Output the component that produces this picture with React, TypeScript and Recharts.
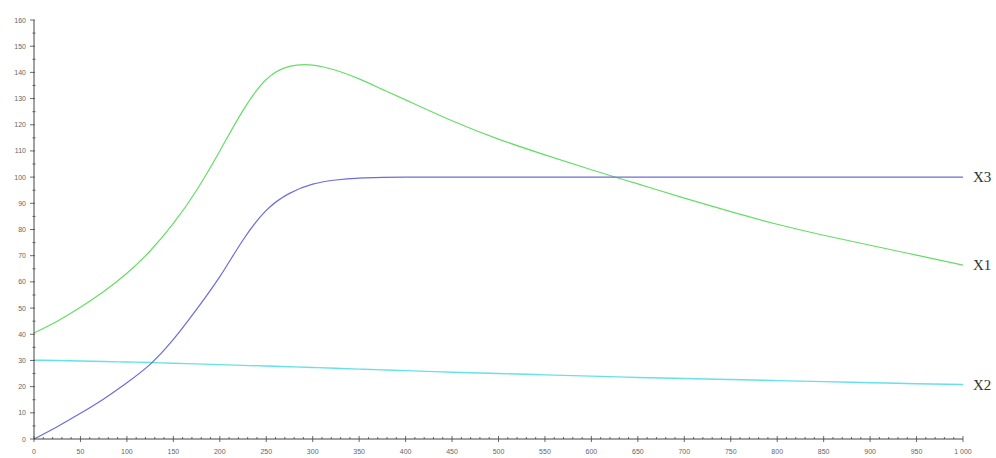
import { LineChart, Line, XAxis, YAxis } from 'recharts';

// sample points along the time axis
const times = [0, 25, 50, 75, 100, 125, 150, 175, 200, 225, 250, 275, 300, 325, 350, 375, 400, 450, 500, 550, 600, 650, 700, 750, 800, 850, 900, 950, 1000];

const x1Values = [40.5, 45, 50.3, 56.3, 63.3, 71.8, 82.3, 95, 110, 125.5, 137.3, 142.3, 142.8, 140.8, 137.5, 133.5, 129.5, 121.5, 114.5, 108.5, 102.8, 97.4, 92, 86.8, 82, 77.8, 74, 70.2, 66.4];
const x2Values = [30.1, 30, 29.8, 29.6, 29.4, 29.2, 28.9, 28.7, 28.4, 28.1, 27.9, 27.6, 27.3, 27, 26.7, 26.4, 26.1, 25.5, 25, 24.5, 24, 23.5, 23.1, 22.7, 22.3, 21.9, 21.5, 21.1, 20.8];
const x3Values = [0, 4.7, 9.8, 15.3, 21.5, 28.5, 38, 49.5, 62, 76, 87.3, 93.8, 97.3, 98.9, 99.6, 99.9, 100, 100, 100, 100, 100, 100, 100, 100, 100, 100, 100, 100, 100];

const seriesNames = ['X1', 'X2', 'X3'];

const xTicks = Array.from({ length: 101 }, (_, i) => i * 10);
const yTicks = Array.from({ length: 33 }, (_, i) => i * 5);

const data = times.map((t, i) => ({ t, X1: x1Values[i], X2: x2Values[i], X3: x3Values[i] }));

const axisColor = '#444';
const tickFont = '"Liberation Sans", Arial, sans-serif';

const XTick = ({ x, y, payload }: any) => {
    const v = payload.value;
    const major = v % 50 === 0;
    return (
        <g>
            <line x1={x} x2={x} y1={major ? y - 3 : y - 2} y2={major ? y + 3 : y} stroke={axisColor} strokeWidth={0.8} />
            {major && (
                <text x={x} y={y + 15} textAnchor="middle" fontSize={7} fill="#666" fontFamily={tickFont}>
                    {v === 1000 ? '1 000' : v}
                </text>
            )}
        </g>
    );
};

const YTick = ({ x, y, payload }: any) => {
    const v = payload.value;
    const major = v % 10 === 0;
    return (
        <g>
            <line x1={major ? x - 4 : x - 1.5} x2={major ? x + 1 : x + 1.5} y1={y} y2={y} stroke={axisColor} strokeWidth={0.8} />
            {major && (
                <text x={x - 8} y={y + 2.5} textAnchor="end" fontSize={7} fill="#666" fontFamily={tickFont}>
                    {v}
                </text>
            )}
        </g>
    );
};

const endLabel = (name: string) => (props: any) => {
    const { x, y, index } = props;
    if (index !== data.length - 1) return null;
    return (
        <text x={x + 10} y={y + 5} fontSize={15} fill="#333" fontFamily='"Liberation Serif", "DejaVu Serif", serif'>
            {name}
        </text>
    );
};

export default function App() {
    return (
        <div style={{ width: 996, height: 458, background: '#fff' }}>
            <style>{'body{margin:0}'}</style>
            <LineChart width={996} height={458} data={data} margin={{ top: 20, right: 33, left: 0, bottom: 0 }}>
                <XAxis
                    dataKey="t"
                    type="number"
                    domain={[0, 1000]}
                    ticks={xTicks}
                    interval={0}
                    height={19}
                    tickSize={0}
                    tickMargin={0}
                    tickLine={false}
                    stroke={axisColor}
                    tick={<XTick />}
                />
                <YAxis
                    type="number"
                    domain={[0, 160]}
                    ticks={yTicks}
                    interval={0}
                    width={34}
                    tickSize={0}
                    tickMargin={0}
                    tickLine={false}
                    stroke={axisColor}
                    tick={<YTick />}
                />
                <Line dataKey="X1" name={seriesNames[0]} type="natural" stroke="#66dd66" strokeWidth={1.2} dot={false} isAnimationActive={false} label={endLabel(seriesNames[0])} />
                <Line dataKey="X2" name={seriesNames[1]} type="natural" stroke="#66e0ea" strokeWidth={1.4} dot={false} isAnimationActive={false} label={endLabel(seriesNames[1])} />
                <Line dataKey="X3" name={seriesNames[2]} type="natural" stroke="#6c6cdc" strokeWidth={1.2} dot={false} isAnimationActive={false} label={endLabel(seriesNames[2])} />
            </LineChart>
        </div>
    );
}
